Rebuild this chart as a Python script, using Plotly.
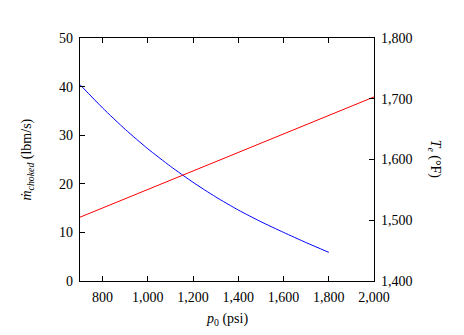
import plotly.graph_objects as go

p0_blue = [700, 800, 900, 1000, 1100, 1200, 1300, 1400, 1500, 1600, 1700, 1800]
mdot_choked = [40.4, 35.6, 31.2, 27.2, 23.6, 20.3, 17.3, 14.6, 12.2, 10.0, 7.9, 5.9]

p0_red = [700, 2000]
T_e = [1505, 1703]

x_ticks = [800, 1000, 1200, 1400, 1600, 1800, 2000]
y1_ticks = [0, 10, 20, 30, 40, 50]
y2_ticks = [1400, 1500, 1600, 1700, 1800]

FONT = "Liberation Serif"

fig = go.Figure()
fig.add_trace(go.Scatter(x=p0_blue, y=mdot_choked, mode="lines",
                         line=dict(color="#0000ff", width=1, shape="spline", smoothing=0.6),
                         yaxis="y", showlegend=False))
fig.add_trace(go.Scatter(x=p0_red, y=T_e, mode="lines",
                         line=dict(color="#ff0000", width=1), yaxis="y2", showlegend=False))

axis_common = dict(showgrid=False, zeroline=False, ticks="inside", ticklen=5, tickwidth=1,
                   tickcolor="black", linecolor="black", linewidth=1.3, showline=True,
                   tickfont=dict(family=FONT, size=14, color="black"))

fig.update_layout(
    width=464, height=335,
    margin=dict(l=80, r=90, t=38, b=54),
    paper_bgcolor="white", plot_bgcolor="white",
    font=dict(family=FONT, size=14, color="black"),
    xaxis=dict(range=[700, 2000], tickvals=x_ticks, tickformat=",", mirror="ticks",
               ticklabelstandoff=3, **axis_common),
    yaxis=dict(range=[0, 50], tickvals=y1_ticks, ticklabelstandoff=3, **axis_common),
    yaxis2=dict(range=[1400, 1800], tickvals=y2_ticks, tickformat=",", overlaying="y",
                side="right", ticklabelstandoff=3, **axis_common),
    annotations=[
        dict(text="<i>p</i><sub>0</sub> (psi)", xref="paper", yref="paper", x=0.5, y=-0.16,
             xanchor="center", yanchor="middle", showarrow=False, font=dict(size=14)),
        dict(text="<i>ṁ</i><sub><i>choked</i></sub> (lbm/s)", xref="paper", yref="paper",
             x=-0.18, y=0.5, xanchor="center", yanchor="middle", textangle=-90,
             showarrow=False, font=dict(size=14)),
        dict(text="<i>T</i><sub><i>e</i></sub> (°F)", xref="paper", yref="paper",
             x=1.207, y=0.5, xanchor="center", yanchor="middle", textangle=90,
             showarrow=False, font=dict(size=14)),
    ],
)

fig.write_html("out.html")
